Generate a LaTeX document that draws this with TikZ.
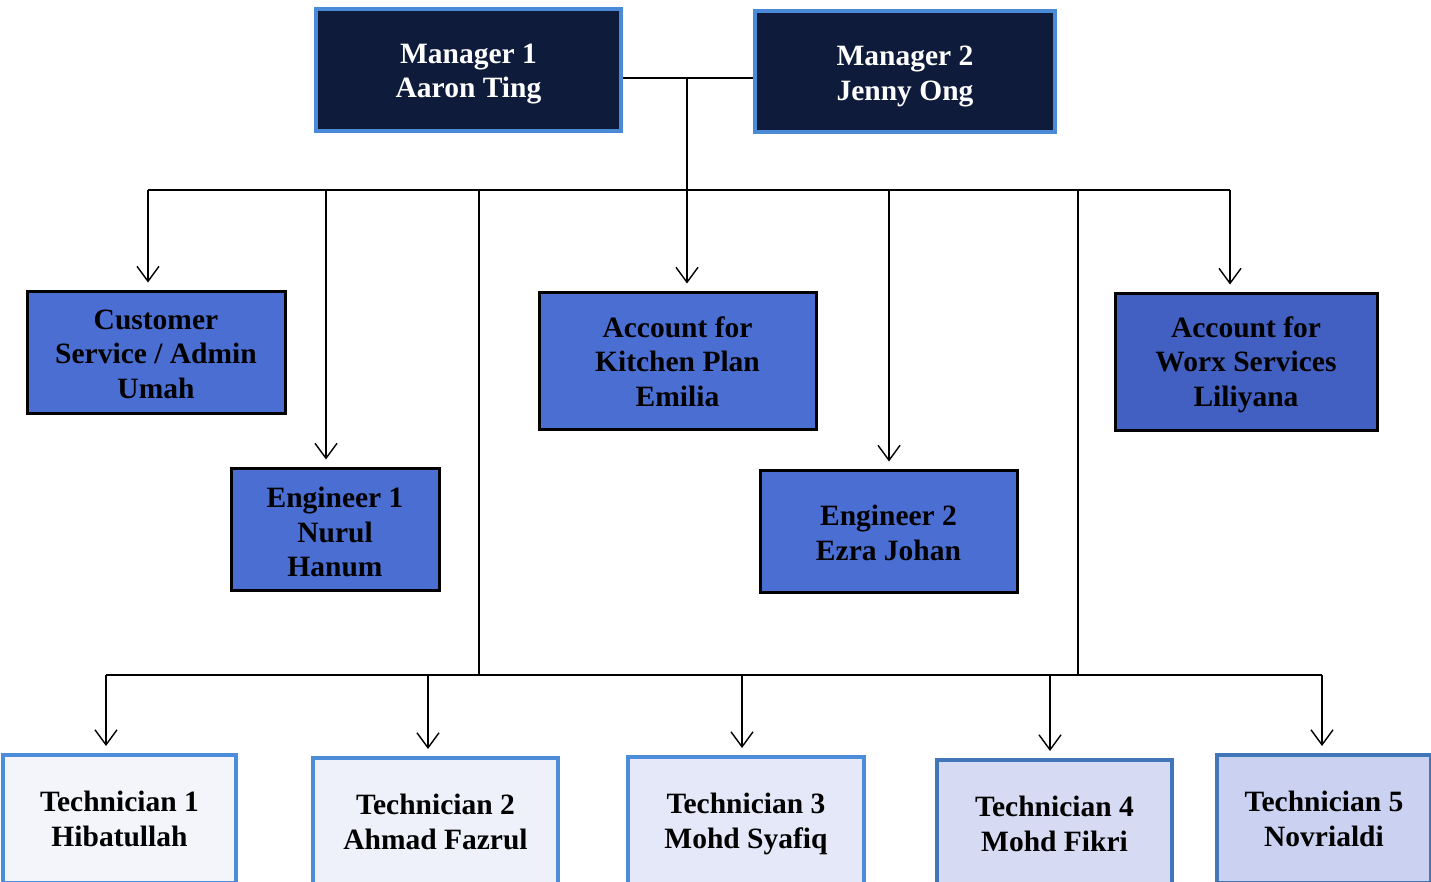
\documentclass[tikz,border=0pt]{standalone}
\usepackage{fontspec}
\setmainfont{Liberation Serif}
\usetikzlibrary{arrows.meta}
\definecolor{navy}{HTML}{0F1B3B}
\definecolor{mgrborder}{HTML}{4A8AD6}
\definecolor{midblue}{HTML}{4B6ED2}
\definecolor{midblue2}{HTML}{4260C2}
\definecolor{techborder}{HTML}{4C8CD8}
\definecolor{techA}{HTML}{F3F5FB}
\definecolor{techB}{HTML}{EEF1FA}
\definecolor{techC}{HTML}{E4E8F8}
\definecolor{techD}{HTML}{D6DBF3}
\definecolor{techE}{HTML}{CBD1F1}
\begin{document}
\begin{tikzpicture}[x=1pt,y=-1pt,
  txt/.style={align=center,font=\fontsize{29.5}{34.5}\selectfont\bfseries,inner sep=0pt},
  mgr/.style={txt,draw=mgrborder,line width=4pt,fill=navy,text=white},
  mid/.style={txt,draw=black,line width=3pt,fill=midblue,text=black},
  tech/.style={txt,draw=techborder,line width=4pt,text=black},
  ln/.style={line width=1.3pt,draw=black},
  arr/.style={ln,-{Straight Barb[length=15pt,width=22pt,line width=1.4pt]},shorten >=7pt}]
\useasboundingbox (0,0) rectangle (1431,881);
\fill[white] (0,0) rectangle (1431,881);
\begin{scope}
\clip (0,0) rectangle (1431,881);
% managers
\node[mgr,minimum width=305pt,minimum height=122pt,
  label={[txt,text=white,yshift=-4pt]center:Manager 1\\Aaron Ting}] (m1) at (468.5,70) {};
\node[mgr,minimum width=300pt,minimum height=121pt,
  label={[txt,text=white,yshift=-5pt]center:Manager 2\\Jenny Ong}] (m2) at (905,71.5) {};
% middle row
\node[mid,minimum width=258pt,minimum height=122pt,
  label={[txt,yshift=-2pt]center:Customer\\Service / Admin\\Umah}] (cs) at (156,352) {};
\node[mid,minimum width=208pt,minimum height=122pt,
  label={[txt,yshift=-3pt]center:Engineer 1\\Nurul\\Hanum}] (e1) at (335,529) {};
\node[mid,minimum width=277pt,minimum height=137pt,
  label={[txt,yshift=-1pt]center:Account for\\Kitchen Plan\\Emilia}] (kp) at (677.5,360.5) {};
\node[mid,minimum width=257pt,minimum height=122pt,
  label={[txt,yshift=-2pt]center:Engineer 2\\Ezra Johan}] (e2) at (888.5,531) {};
\node[mid,fill=midblue2,minimum width=262pt,minimum height=137pt,
  label={[txt,yshift=-3pt]center:Account for\\Worx Services\\Liliyana}] (wx) at (1246,361.5) {};
% technicians
\node[tech,fill=techA,minimum width=233pt,minimum height=128pt] (t1) at (119.5,819) {Technician 1\\Hibatullah};
\node[tech,fill=techB,minimum width=245pt,minimum height=128pt] (t2) at (435.5,822) {Technician 2\\Ahmad Fazrul};
\node[tech,fill=techC,minimum width=236pt,minimum height=128pt,
  label={[txt,yshift=-3pt]center:Technician 3\\Mohd Syafiq}] (t3) at (746,821) {};
\node[tech,fill=techD,draw=techborder!85!black,minimum width=235pt,minimum height=128pt] (t4) at (1054.5,824) {Technician 4\\Mohd Fikri};
\node[tech,fill=techE,draw=techborder!85!black,minimum width=214pt,minimum height=128pt] (t5) at (1324,819) {Technician 5\\Novrialdi};
\end{scope}
% junction coordinates
\coordinate (j) at (687,78);
\coordinate (bL) at (148,190);
\coordinate (bR) at (1230,190);
\coordinate (d1) at (326,190);
\coordinate (d2) at (479,190);
\coordinate (d3) at (687,190);
\coordinate (d4) at (889,190);
\coordinate (d5) at (1078,190);
\coordinate (lL) at (106,675);
\coordinate (lR) at (1322,675);
\coordinate (l2) at (428,675);
\coordinate (l3) at (742,675);
\coordinate (l4) at (1050,675);
% connectors
\draw[ln] (m1.east |- j) -- (m2.west |- j);
\draw[ln] (j) -- (d3);
\draw[ln] (bL) -- (bR);
\draw[arr] (bL) -- (bL |- cs.north);
\draw[arr] (d1) -- (d1 |- e1.north);
\draw[arr] (d3) -- (d3 |- kp.north);
\draw[arr] (d4) -- (d4 |- e2.north);
\draw[arr] (bR) -- (bR |- wx.north);
\draw[ln] (d2) -- (d2 |- lL);
\draw[ln] (d5) -- (d5 |- lL);
\draw[ln] (lL) -- (lR);
\draw[arr] (lL) -- (lL |- t1.north);
\draw[arr] (l2) -- (l2 |- t2.north);
\draw[arr] (l3) -- (l3 |- t3.north);
\draw[arr] (l4) -- (l4 |- t4.north);
\draw[arr] (lR) -- (lR |- t5.north);
\end{tikzpicture}
\end{document}
